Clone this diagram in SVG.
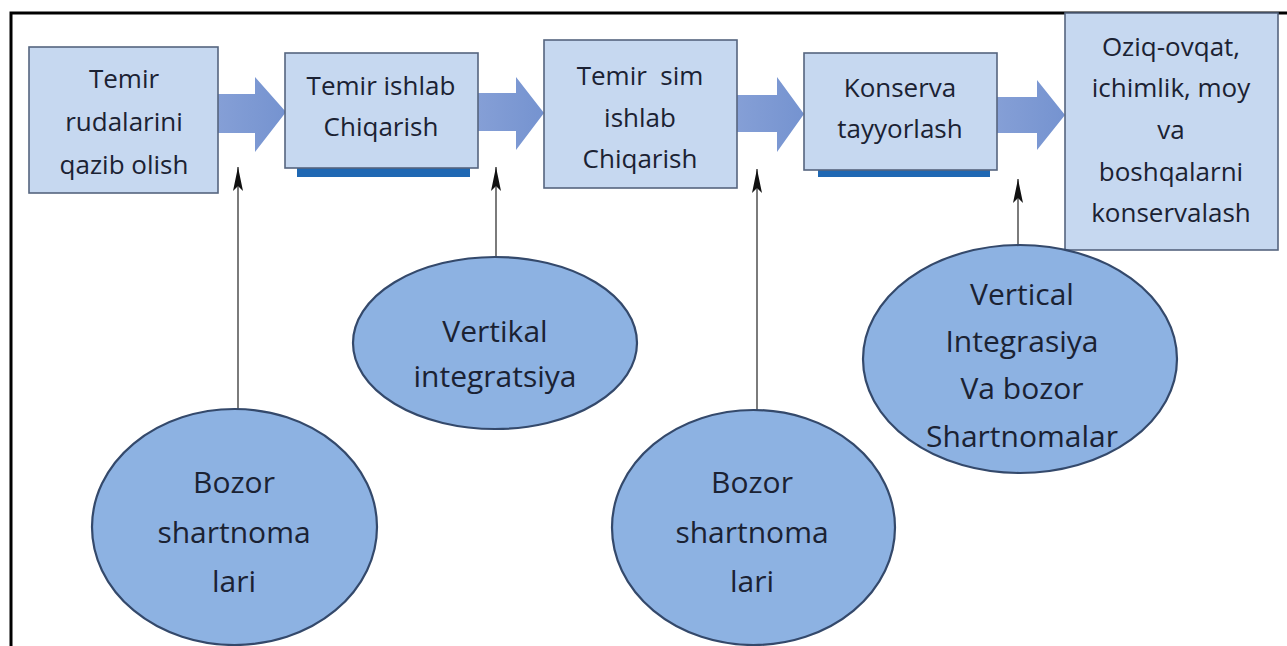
<svg xmlns="http://www.w3.org/2000/svg" width="1287" height="646" viewBox="0 0 1287 646">
  <defs>
    <linearGradient id="flowGrad" x1="0" y1="0" x2="1" y2="0">
      <stop offset="0" stop-color="#859fd6"/>
      <stop offset="1" stop-color="#7593d0"/>
    </linearGradient>
    <!-- narrow arrowhead pointing along +x; orient=auto turns it along the line -->
    <marker id="tip" viewBox="0 0 24 12" refX="24" refY="6" markerWidth="24" markerHeight="12" markerUnits="userSpaceOnUse" orient="auto">
      <path d="M24,6 L0,1 L5,6 L0,11 Z" fill="#111"/>
    </marker>
    <style>
      .box { fill: #c6d8f0; stroke: #55657f; stroke-width: 1.6; }
      .bar { fill: #1f68b3; }
      .oval { fill: #8db2e2; stroke: #34496b; stroke-width: 2.2; }
      .flow { fill: url(#flowGrad); }
      .link { stroke: #444; stroke-width: 1.4; fill: none; }
      .t { font-family: "Open Sans", "Noto Sans", sans-serif; fill: #1b2233; text-anchor: middle; }
      .bt { font-size: 26px; }
      .ot { font-size: 30px; }
    </style>
  </defs>

  <rect width="1287" height="646" fill="#ffffff"/>
  <!-- frame -->
  <path d="M11,646 V13 H1287" fill="none" stroke="#000" stroke-width="3"/>

  <!-- block arrows between the stages -->
  <g id="flow-arrows">
    <path class="flow" d="M218,94 H255 V77 L286,112 L255,152 V133 H218 Z"/>
    <path class="flow" d="M478,93 H516 V77 L544,113 L516,150 V131 H478 Z"/>
    <path class="flow" d="M737,95 H777 V77 L804,114 L777,152 V132 H737 Z"/>
    <path class="flow" d="M997,97 H1037 V80 L1065,115 L1037,150 V133 H997 Z"/>
  </g>

  <!-- thin connectors from the ovals -->
  <g id="connectors">
    <line class="link" x1="238" y1="409" x2="238" y2="167" marker-end="url(#tip)"/>
    <line class="link" x1="496" y1="257" x2="496" y2="167" marker-end="url(#tip)"/>
    <line class="link" x1="757" y1="410" x2="757" y2="169" marker-end="url(#tip)"/>
    <line class="link" x1="1018" y1="245" x2="1018" y2="179" marker-end="url(#tip)"/>
  </g>

  <g id="stage1">
    <rect class="box" x="29" y="47" width="189" height="146"/>
    <text class="t bt" x="124" y="88">Temir</text>
    <text class="t bt" x="124" y="131">rudalarini</text>
    <text class="t bt" x="124" y="174">qazib olish</text>
  </g>

  <g id="stage2">
    <rect class="bar" x="297" y="166" width="173" height="11"/>
    <rect class="box" x="285" y="53" width="193" height="115"/>
    <text class="t bt" x="381" y="95">Temir ishlab</text>
    <text class="t bt" x="381" y="136">Chiqarish</text>
  </g>

  <g id="stage3">
    <rect class="box" x="544" y="40" width="193" height="148"/>
    <text class="t bt" x="640" y="85" xml:space="preserve">Temir  sim</text>
    <text class="t bt" x="640" y="127">ishlab</text>
    <text class="t bt" x="640" y="168">Chiqarish</text>
  </g>

  <g id="stage4">
    <rect class="bar" x="818" y="168" width="172" height="9"/>
    <rect class="box" x="804" y="53" width="193" height="117"/>
    <text class="t bt" x="900" y="97">Konserva</text>
    <text class="t bt" x="900" y="138">tayyorlash</text>
  </g>

  <g id="stage5">
    <rect class="box" x="1065" y="13" width="213" height="237"/>
    <text class="t bt" x="1171" y="56">Oziq-ovqat,</text>
    <text class="t bt" x="1171" y="97">ichimlik, moy</text>
    <text class="t bt" x="1171" y="139">va</text>
    <text class="t bt" x="1171" y="181">boshqalarni</text>
    <text class="t bt" x="1171" y="222">konservalash</text>
  </g>

  <g id="market1">
    <ellipse class="oval" cx="234.5" cy="527" rx="142.5" ry="118"/>
    <text class="t ot" x="234" y="493">Bozor</text>
    <text class="t ot" x="234" y="543">shartnoma</text>
    <text class="t ot" x="234" y="592">lari</text>
  </g>

  <g id="vertical1">
    <ellipse class="oval" cx="495" cy="343" rx="142" ry="86"/>
    <text class="t ot" x="495" y="342">Vertikal</text>
    <text class="t ot" x="495" y="387">integratsiya</text>
  </g>

  <g id="market2">
    <ellipse class="oval" cx="753.5" cy="527.5" rx="141.5" ry="117.5"/>
    <text class="t ot" x="752" y="493">Bozor</text>
    <text class="t ot" x="752" y="543">shartnoma</text>
    <text class="t ot" x="752" y="592">lari</text>
  </g>

  <g id="mixed">
    <ellipse class="oval" cx="1020" cy="359" rx="157" ry="114"/>
    <text class="t ot" x="1022" y="305">Vertical</text>
    <text class="t ot" x="1022" y="352">Integrasiya</text>
    <text class="t ot" x="1022" y="399">Va bozor</text>
    <text class="t ot" x="1022" y="447">Shartnomalar</text>
  </g>
</svg>
